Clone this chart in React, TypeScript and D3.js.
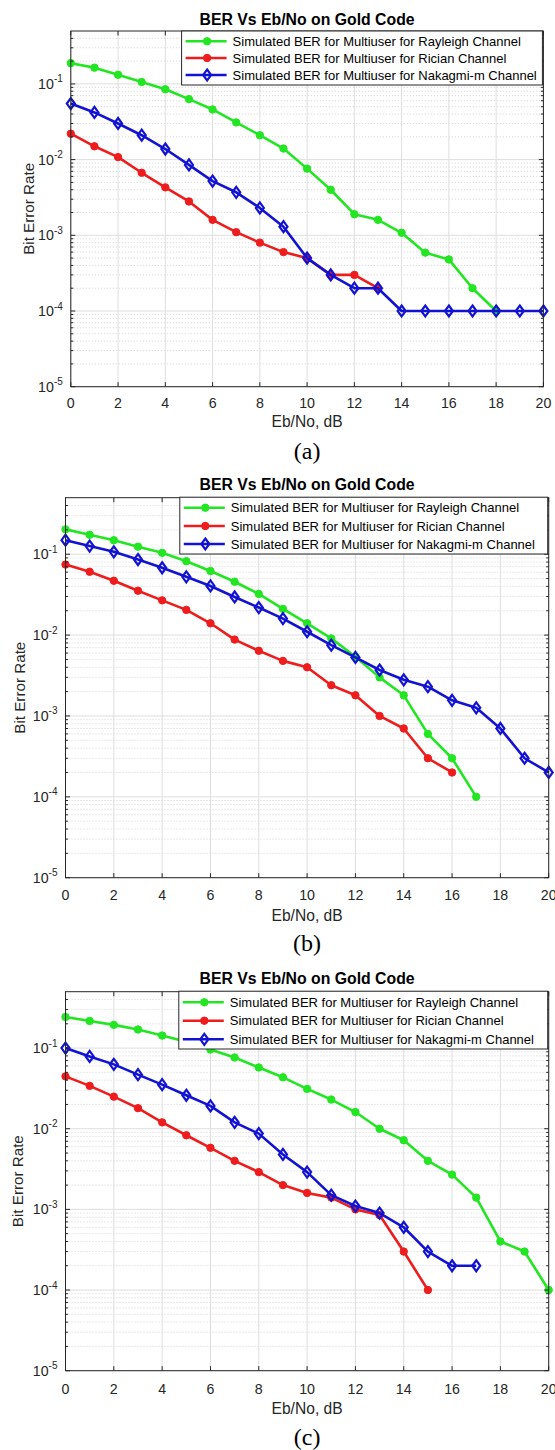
import React from 'react';
import * as d3 from 'd3';

// ---------- DATA ----------
const ebNo = [0, 1, 2, 3, 4, 5, 6, 7, 8, 9, 10, 11, 12, 13, 14, 15, 16, 17, 18, 19, 20];
const xTicks = [0, 2, 4, 6, 8, 10, 12, 14, 16, 18, 20];
const yDecadeExps = [-5, -4, -3, -2, -1];
const titleText = 'BER Vs Eb/No on Gold Code';
const xLabelText = 'Eb/No, dB';
const yLabelText = 'Bit Error Rate';
const legendLabels = [
  'Simulated BER for Multiuser for Rayleigh Channel',
  'Simulated BER for Multiuser for Rician Channel',
  'Simulated BER for Multiuser for Nakagmi-m Channel',
];
const captions = ['(a)', '(b)', '(c)'];

// Panel (a)
const aRayleigh = [0.188, 0.164, 0.132, 0.106, 0.085, 0.063, 0.046, 0.031, 0.021, 0.014, 0.0076, 0.004, 0.0019, 0.0016, 0.00108, 0.00059, 0.00048, 0.0002, 0.0001];
const aRician = [0.022, 0.015, 0.0108, 0.0067, 0.0043, 0.0028, 0.0016, 0.0011, 0.0008, 0.0006, 0.0005, 0.0003, 0.0003, 0.0002];
const aNakagami = [0.055, 0.042, 0.03, 0.021, 0.0138, 0.0085, 0.0052, 0.0037, 0.0023, 0.0013, 0.0005, 0.0003, 0.0002, 0.0002, 0.0001, 0.0001, 0.0001, 0.0001, 0.0001, 0.0001, 0.0001];

// Panel (b)
const bRayleigh = [0.203, 0.174, 0.149, 0.124, 0.104, 0.082, 0.062, 0.0457, 0.0323, 0.0211, 0.014, 0.0091, 0.0054, 0.003, 0.0018, 0.0006, 0.0003, 0.0001];
const bRician = [0.0745, 0.0607, 0.047, 0.0354, 0.0269, 0.0205, 0.014, 0.0088, 0.0064, 0.0048, 0.004, 0.0024, 0.0018, 0.001, 0.0007, 0.0003, 0.0002];
const bNakagami = [0.149, 0.126, 0.107, 0.086, 0.068, 0.0526, 0.0405, 0.0296, 0.0219, 0.016, 0.011, 0.0075, 0.0053, 0.0037, 0.0028, 0.0023, 0.00156, 0.00126, 0.0007, 0.0003, 0.0002];

// Panel (c)
const cRayleigh = [0.243, 0.217, 0.194, 0.17, 0.143, 0.12, 0.096, 0.0765, 0.0575, 0.0434, 0.0312, 0.023, 0.0161, 0.01, 0.0072, 0.004, 0.0027, 0.0014, 0.0004, 0.0003, 0.0001];
const cRician = [0.0446, 0.034, 0.025, 0.018, 0.012, 0.0083, 0.0058, 0.004, 0.0029, 0.002, 0.0016, 0.0014, 0.001, 0.00085, 0.0003, 0.0001];
const cNakagami = [0.1, 0.0787, 0.0628, 0.0468, 0.0352, 0.026, 0.0192, 0.012, 0.0087, 0.0048, 0.0029, 0.0015, 0.0011, 0.0009, 0.0006, 0.0003, 0.0002, 0.0002];

// ---------- STYLE / LAYOUT ----------
const GREEN = '#22e622';
const RED = '#ee1c1c';
const BLUE = '#1212d2';
const SANS = '"Liberation Sans", Arial, Helvetica, sans-serif';
const SERIF = '"Liberation Serif", "Times New Roman", serif';

type Layout = {
  left: number; right: number; top: number; bottom: number;
  titleY: number; tickY: number; xLabelY: number; capY: number; yLabelX: number;
  legX0: number; legY0: number; legY1: number; legRows: number[];
};

const layouts: Layout[] = [
  { left: 70.8, right: 543.4, top: 31, bottom: 386.7, titleY: 19, tickY: 402.7, xLabelY: 421.7, capY: 450.7, yLabelX: 28.3,
    legX0: 181.6, legY0: 31, legY1: 85, legRows: [41.3, 58, 75] },
  { left: 65.5, right: 548.7, top: 497.7, bottom: 877.7, titleY: 484, tickY: 895, xLabelY: 915, capY: 943.3, yLabelX: 19.5,
    legX0: 179.8, legY0: 497.2, legY1: 554, legRows: [507.7, 526, 544] },
  { left: 65.5, right: 548.7, top: 991.7, bottom: 1370.7, titleY: 978, tickY: 1389, xLabelY: 1408, capY: 1437, yLabelX: 17.7,
    legX0: 178.8, legY0: 991.2, legY1: 1049, legRows: [1002.3, 1020.7, 1039.3] },
];

const panelData = [
  [aRayleigh, aRician, aNakagami],
  [bRayleigh, bRician, bNakagami],
  [cRayleigh, cRician, cNakagami],
];
const seriesColors = [GREEN, RED, BLUE];
const seriesMarkers = ['circle', 'circle', 'diamond'];

function Marker({ kind, cx, cy, color }: { kind: string; cx: number; cy: number; color: string }) {
  if (kind === 'circle') {
    return <circle cx={cx} cy={cy} r={3.7} fill={color} stroke={color} strokeWidth={1} />;
  }
  const w = 4, h = 5.5;
  return (
    <path
      d={`M${cx},${cy - h}L${cx + w},${cy}L${cx},${cy + h}L${cx - w},${cy}Z`}
      fill="none"
      stroke={color}
      strokeWidth={2.2}
    />
  );
}

function Panel({ L, data, caption }: { L: Layout; data: number[][]; caption: string }) {
  const x = d3.scaleLinear().domain([0, 20]).range([L.left, L.right]);
  const y = d3.scaleLog().domain([1e-5, 0.5]).range([L.bottom, L.top]);
  const majorY = yDecadeExps.map((e) => Math.pow(10, e));
  const minorY: number[] = [];
  yDecadeExps.forEach((e) => {
    for (let m = 2; m <= 9; m++) {
      const v = m * Math.pow(10, e);
      if (v < 0.5) minorY.push(v);
    }
  });
  const cx = (L.left + L.right) / 2;
  const cy = (L.top + L.bottom) / 2;
  const line = d3.line<[number, number]>().x((d) => x(d[0])).y((d) => y(d[1]));
  const axisColor = '#262626';
  const tickLen = 4.5;
  const minorLen = 2.5;

  return (
    <g>
      {/* plot background */}
      <rect x={L.left} y={L.top} width={L.right - L.left} height={L.bottom - L.top} fill="#fff" />
      {/* minor y grid */}
      {minorY.map((v, i) => (
        <line key={'mg' + i} x1={L.left} x2={L.right} y1={y(v)} y2={y(v)} stroke="#c8c8c8" strokeWidth={0.8} strokeDasharray="1,2" />
      ))}
      {/* major grid */}
      {majorY.map((v, i) => (
        <line key={'gy' + i} x1={L.left} x2={L.right} y1={y(v)} y2={y(v)} stroke="#dedede" strokeWidth={1} />
      ))}
      {xTicks.map((t, i) => (
        <line key={'gx' + i} x1={x(t)} x2={x(t)} y1={L.top} y2={L.bottom} stroke="#dedede" strokeWidth={1} />
      ))}
      {/* series */}
      {data.map((vals, si) => {
        const pts: [number, number][] = vals.map((v, i) => [ebNo[i], v]);
        return (
          <g key={'s' + si}>
            <path d={line(pts) || ''} fill="none" stroke={seriesColors[si]} strokeWidth={2.6} strokeLinejoin="round" />
            {pts.map((p, i) => (
              <Marker key={i} kind={seriesMarkers[si]} cx={x(p[0])} cy={y(p[1])} color={seriesColors[si]} />
            ))}
          </g>
        );
      })}
      {/* box */}
      <rect x={L.left} y={L.top} width={L.right - L.left} height={L.bottom - L.top} fill="none" stroke={axisColor} strokeWidth={1} />
      {/* x ticks */}
      {xTicks.map((t, i) => (
        <g key={'xt' + i}>
          <line x1={x(t)} x2={x(t)} y1={L.bottom} y2={L.bottom - tickLen} stroke={axisColor} />
          <line x1={x(t)} x2={x(t)} y1={L.top} y2={L.top + tickLen} stroke={axisColor} />
          <text x={x(t)} y={L.tickY} textAnchor="middle" dominantBaseline="central" fontFamily={SANS} fontSize={14.2} fill="#262626">
            {t}
          </text>
        </g>
      ))}
      {/* y ticks */}
      {majorY.map((v, i) => (
        <g key={'yt' + i}>
          <line x1={L.left} x2={L.left + tickLen} y1={y(v)} y2={y(v)} stroke={axisColor} />
          <line x1={L.right} x2={L.right - tickLen} y1={y(v)} y2={y(v)} stroke={axisColor} />
          <text x={L.left - 8} y={y(v) + 5} textAnchor="end" fontFamily={SANS} fontSize={14.2} fill="#262626">
            <tspan>10</tspan>
            <tspan dy={-6.5} fontSize={10}>{String(yDecadeExps[i])}</tspan>
          </text>
        </g>
      ))}
      {minorY.map((v, i) => (
        <g key={'ymt' + i}>
          <line x1={L.left} x2={L.left + minorLen} y1={y(v)} y2={y(v)} stroke={axisColor} />
          <line x1={L.right} x2={L.right - minorLen} y1={y(v)} y2={y(v)} stroke={axisColor} />
        </g>
      ))}
      {/* labels */}
      <text x={cx} y={L.titleY} textAnchor="middle" dominantBaseline="central" fontFamily={SANS} fontWeight="bold" fontSize={15.8} fill="#000">
        {titleText}
      </text>
      <text x={cx} y={L.xLabelY} textAnchor="middle" dominantBaseline="central" fontFamily={SANS} fontSize={15.6} fill="#262626">
        {xLabelText}
      </text>
      <text
        x={L.yLabelX}
        y={cy}
        textAnchor="middle"
        dominantBaseline="central"
        fontFamily={SANS}
        fontSize={15.2}
        fill="#262626"
        transform={`rotate(-90 ${L.yLabelX} ${cy})`}
      >
        {yLabelText}
      </text>
      <text x={cx} y={L.capY} textAnchor="middle" dominantBaseline="central" fontFamily={SERIF} fontSize={24} fill="#000">
        {caption}
      </text>
      {/* legend */}
      <rect x={L.legX0} y={L.legY0} width={L.right - 1 - L.legX0} height={L.legY1 - L.legY0} fill="#fff" stroke={axisColor} strokeWidth={1} />
      {legendLabels.map((lab, i) => (
        <g key={'lg' + i}>
          <line x1={L.legX0 + 4} x2={L.legX0 + 45} y1={L.legRows[i]} y2={L.legRows[i]} stroke={seriesColors[i]} strokeWidth={2.6} />
          <Marker kind={seriesMarkers[i]} cx={L.legX0 + 25.5} cy={L.legRows[i]} color={seriesColors[i]} />
          <text x={L.legX0 + 51} y={L.legRows[i]} dominantBaseline="central" fontFamily={SANS} fontSize={13} fill="#000">
            {lab}
          </text>
        </g>
      ))}
    </g>
  );
}

export default function App() {
  return (
    <svg
      width={555}
      height={1450}
      viewBox="0 0 555 1450"
      style={{ position: 'absolute', left: 0, top: 0, display: 'block', background: '#fff' }}
    >
      <rect x={0} y={0} width={555} height={1450} fill="#fff" />
      {layouts.map((L, i) => (
        <Panel key={i} L={L} data={panelData[i]} caption={captions[i]} />
      ))}
    </svg>
  );
}
